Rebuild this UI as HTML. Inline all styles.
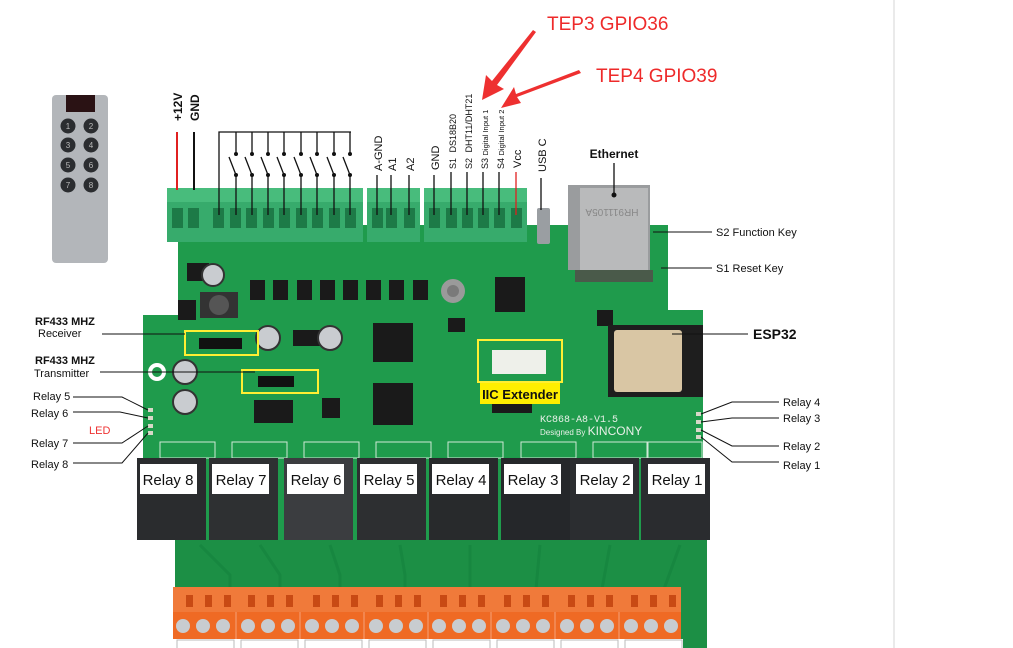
<!DOCTYPE html>
<html><head><meta charset="utf-8"><style>
body{margin:0;background:#fff;width:1013px;height:648px;overflow:hidden;font-family:"Liberation Sans",sans-serif}
svg{display:block}
</style></head><body>
<svg width="1013" height="648" viewBox="0 0 1013 648" xmlns="http://www.w3.org/2000/svg" font-family="Liberation Sans, sans-serif">
<rect width="1013" height="648" fill="#fff"/>
<line x1="894" y1="0" x2="894" y2="648" stroke="#e4e4e4" stroke-width="1.5"/>

<!-- remote -->
<rect x="52" y="95" width="56" height="168" rx="4" fill="#b3b6ba"/>
<rect x="66" y="95" width="29" height="17" fill="#2a1214"/>
<g fill="#2b2d30"><circle cx="68" cy="126" r="7.5"/><circle cx="91" cy="126" r="7.5"/><circle cx="68" cy="145" r="7.5"/><circle cx="91" cy="145" r="7.5"/><circle cx="68" cy="165" r="7.5"/><circle cx="91" cy="165" r="7.5"/><circle cx="68" cy="185" r="7.5"/><circle cx="91" cy="185" r="7.5"/></g>
<g fill="#bbb" font-size="8" text-anchor="middle"><text x="68" y="129">1</text><text x="91" y="129">2</text><text x="68" y="148">3</text><text x="91" y="148">4</text><text x="68" y="168">5</text><text x="91" y="168">6</text><text x="68" y="188">7</text><text x="91" y="188">8</text></g>

<!-- board -->
<polygon points="175,600 175,540 143,540 143,315 178,315 178,225 668,225 668,310 703,310 703,540 707,540 707,600" fill="#1f9b4c"/>
<rect x="175" y="540" width="532" height="108" fill="#1c8f45"/>
<g stroke="#178740" stroke-width="3" fill="none">
<path d="M200 545 L230 575 L230 600"/><path d="M260 545 L280 575 L280 600"/><path d="M330 545 L340 575 L340 600"/><path d="M400 545 L405 575 L405 600"/><path d="M470 545 L470 600"/><path d="M540 545 L535 600"/><path d="M610 545 L600 600"/><path d="M680 545 L660 600"/>
</g>
<!-- ethernet -->
<rect x="568" y="185" width="82" height="85" fill="#9a9c9e"/>
<rect x="580" y="188" width="68" height="82" fill="#b9babb"/>
<text x="612" y="215" font-size="10" fill="#888" text-anchor="middle" transform="rotate(180 612 212)">HR911105A</text>
<rect x="575" y="270" width="78" height="12" fill="#4a5a4a"/>
<!-- USB-C -->
<rect x="537" y="208" width="13" height="36" rx="2" fill="#9a9ea2"/>

<!-- green terminals -->
<g>
<rect x="167" y="188" width="43" height="54" fill="#37ab6c"/>
<rect x="210" y="188" width="153" height="54" fill="#37ab6c"/>
<rect x="367" y="188" width="53" height="54" fill="#37ab6c"/>
<rect x="424" y="188" width="103" height="54" fill="#37ab6c"/>
<rect x="167" y="188" width="43" height="14" fill="#48bc7c"/>
<rect x="210" y="188" width="153" height="14" fill="#48bc7c"/>
<rect x="367" y="188" width="53" height="14" fill="#48bc7c"/>
<rect x="424" y="188" width="103" height="14" fill="#48bc7c"/>
<g fill="#1d7a47">
<rect x="172" y="208" width="11" height="20"/><rect x="188" y="208" width="11" height="20"/>
<rect x="213" y="208" width="11" height="20"/><rect x="230" y="208" width="11" height="20"/><rect x="246" y="208" width="11" height="20"/><rect x="263" y="208" width="11" height="20"/><rect x="279" y="208" width="11" height="20"/><rect x="296" y="208" width="11" height="20"/><rect x="312" y="208" width="11" height="20"/><rect x="329" y="208" width="11" height="20"/><rect x="345" y="208" width="11" height="20"/>
<rect x="372" y="208" width="11" height="20"/><rect x="386" y="208" width="11" height="20"/><rect x="404" y="208" width="11" height="20"/>
<rect x="429" y="208" width="11" height="20"/><rect x="446" y="208" width="11" height="20"/><rect x="462" y="208" width="11" height="20"/><rect x="478" y="208" width="11" height="20"/><rect x="494" y="208" width="11" height="20"/><rect x="511" y="208" width="11" height="20"/>
</g>
</g>

<!-- components -->
<g fill="#1a1a1a">
<rect x="250" y="280" width="15" height="20"/><rect x="273" y="280" width="15" height="20"/><rect x="297" y="280" width="15" height="20"/><rect x="320" y="280" width="15" height="20"/><rect x="343" y="280" width="15" height="20"/><rect x="366" y="280" width="15" height="20"/><rect x="389" y="280" width="15" height="20"/><rect x="413" y="280" width="15" height="20"/>
<rect x="373" y="323" width="40" height="39"/><rect x="373" y="383" width="40" height="42"/>
<rect x="495" y="277" width="30" height="35"/><rect x="254" y="400" width="39" height="23"/>
<rect x="187" y="263" width="22" height="18"/><rect x="178" y="300" width="18" height="20"/>
<rect x="448" y="318" width="17" height="14"/><rect x="512" y="387" width="20" height="25"/>
<rect x="322" y="398" width="18" height="20"/><rect x="597" y="310" width="16" height="16"/>
<rect x="293" y="330" width="28" height="16"/><rect x="492" y="403" width="40" height="10"/>
</g>
<rect x="200" y="292" width="38" height="26" fill="#333"/>
<circle cx="219" cy="305" r="10" fill="#555"/>
<g fill="#c9ccd0" stroke="#333" stroke-width="2"><circle cx="213" cy="275" r="11"/><circle cx="268" cy="338" r="12"/><circle cx="330" cy="338" r="12"/><circle cx="185" cy="372" r="12"/><circle cx="185" cy="402" r="12"/></g>
<circle cx="453" cy="291" r="12" fill="#9a9a9a"/><circle cx="453" cy="291" r="6" fill="#7a7a7a"/>
<circle cx="157" cy="372" r="9" fill="#fff"/><circle cx="157" cy="372" r="5" fill="#1f9b4c"/>
<!-- ESP32 -->
<rect x="608" y="325" width="95" height="72" fill="#1e1e1e"/>
<rect x="614" y="330" width="68" height="62" rx="3" fill="#d9c6a4"/>
<!-- yellow boxes -->
<g fill="none" stroke="#ffee33" stroke-width="2"><rect x="185" y="331" width="73" height="24"/><rect x="242" y="370" width="76" height="23"/><rect x="478" y="340" width="84" height="42"/></g>
<rect x="199" y="338" width="43" height="11" fill="#111"/>
<rect x="258" y="376" width="36" height="11" fill="#111"/>
<rect x="492" y="350" width="54" height="24" fill="#eef0ea"/>
<rect x="480" y="383" width="80" height="21" fill="#ffee00"/>
<text x="520" y="399" font-size="13" font-weight="bold" text-anchor="middle" fill="#111">IIC Extender</text>
<text x="540" y="422" font-size="10" fill="#e8f0e8" font-family="Liberation Mono, monospace">KC868-A8-V1.5</text>
<text x="540" y="435" font-size="8" fill="#e8f0e8">Designed By <tspan font-size="12">KINCONY</tspan></text>
<!-- LEDs -->
<g fill="#d8d8c8"><rect x="148" y="408" width="5" height="4"/><rect x="148" y="416" width="5" height="4"/><rect x="148" y="424" width="5" height="4"/><rect x="148" y="431" width="5" height="4"/><rect x="696" y="412" width="5" height="4"/><rect x="696" y="420" width="5" height="4"/><rect x="696" y="428" width="5" height="4"/><rect x="696" y="435" width="5" height="4"/></g>
<!-- relay sockets -->
<g fill="none" stroke="#cfe8d6" stroke-width="1"><rect x="160" y="442" width="55" height="16"/><rect x="232" y="442" width="55" height="16"/><rect x="304" y="442" width="55" height="16"/><rect x="376" y="442" width="55" height="16"/><rect x="448" y="442" width="55" height="16"/><rect x="521" y="442" width="55" height="16"/><rect x="593" y="442" width="55" height="16"/><rect x="647" y="442" width="55" height="16"/></g>

<!-- relays -->
<g>
<rect x="137" y="458" width="69" height="82" fill="#2a2c2e"/>
<rect x="209" y="458" width="69" height="82" fill="#2e3032"/>
<rect x="284" y="458" width="69" height="82" fill="#3b3d40"/>
<rect x="357" y="458" width="69" height="82" fill="#2d2f31"/>
<rect x="429" y="458" width="69" height="82" fill="#282a2c"/>
<rect x="501" y="458" width="69" height="82" fill="#25272a"/>
<rect x="570" y="458" width="69" height="82" fill="#2b2d30"/>
<rect x="641" y="458" width="69" height="82" fill="#2a2c2f"/>
<g fill="#fff"><rect x="140" y="464" width="57" height="30"/><rect x="212" y="464" width="57" height="30"/><rect x="287" y="464" width="57" height="30"/><rect x="360" y="464" width="57" height="30"/><rect x="432" y="464" width="57" height="30"/><rect x="504" y="464" width="57" height="30"/><rect x="576" y="464" width="57" height="30"/><rect x="648" y="464" width="57" height="30"/></g>
<g font-size="15" fill="#111" text-anchor="middle"><text x="168" y="485">Relay 8</text><text x="241" y="485">Relay 7</text><text x="316" y="485">Relay 6</text><text x="389" y="485">Relay 5</text><text x="461" y="485">Relay 4</text><text x="533" y="485">Relay 3</text><text x="605" y="485">Relay 2</text><text x="677" y="485">Relay 1</text></g>
</g>

<!-- orange terminals -->
<rect x="173" y="587" width="508" height="30" fill="#f07a3a"/>
<rect x="173" y="612" width="508" height="27" fill="#ef6a24"/>
<g fill="#c84a14">
<rect x="186" y="595" width="7" height="12"/><rect x="205" y="595" width="7" height="12"/><rect x="224" y="595" width="7" height="12"/><rect x="248" y="595" width="7" height="12"/><rect x="267" y="595" width="7" height="12"/><rect x="286" y="595" width="7" height="12"/><rect x="313" y="595" width="7" height="12"/><rect x="332" y="595" width="7" height="12"/><rect x="351" y="595" width="7" height="12"/><rect x="376" y="595" width="7" height="12"/><rect x="395" y="595" width="7" height="12"/><rect x="414" y="595" width="7" height="12"/><rect x="440" y="595" width="7" height="12"/><rect x="459" y="595" width="7" height="12"/><rect x="478" y="595" width="7" height="12"/><rect x="504" y="595" width="7" height="12"/><rect x="523" y="595" width="7" height="12"/><rect x="542" y="595" width="7" height="12"/><rect x="568" y="595" width="7" height="12"/><rect x="587" y="595" width="7" height="12"/><rect x="606" y="595" width="7" height="12"/><rect x="631" y="595" width="7" height="12"/><rect x="650" y="595" width="7" height="12"/><rect x="669" y="595" width="7" height="12"/>
</g>
<g stroke="#f6a27a" stroke-width="1"><line x1="236" y1="612" x2="236" y2="639"/><line x1="300" y1="612" x2="300" y2="639"/><line x1="364" y1="612" x2="364" y2="639"/><line x1="428" y1="612" x2="428" y2="639"/><line x1="491" y1="612" x2="491" y2="639"/><line x1="555" y1="612" x2="555" y2="639"/><line x1="619" y1="612" x2="619" y2="639"/></g>
<g fill="#c8ccd0"><circle cx="183" cy="626" r="7"/><circle cx="203" cy="626" r="7"/><circle cx="223" cy="626" r="7"/><circle cx="248" cy="626" r="7"/><circle cx="268" cy="626" r="7"/><circle cx="288" cy="626" r="7"/><circle cx="312" cy="626" r="7"/><circle cx="332" cy="626" r="7"/><circle cx="352" cy="626" r="7"/><circle cx="376" cy="626" r="7"/><circle cx="396" cy="626" r="7"/><circle cx="416" cy="626" r="7"/><circle cx="439" cy="626" r="7"/><circle cx="459" cy="626" r="7"/><circle cx="479" cy="626" r="7"/><circle cx="503" cy="626" r="7"/><circle cx="523" cy="626" r="7"/><circle cx="543" cy="626" r="7"/><circle cx="567" cy="626" r="7"/><circle cx="587" cy="626" r="7"/><circle cx="607" cy="626" r="7"/><circle cx="631" cy="626" r="7"/><circle cx="651" cy="626" r="7"/><circle cx="671" cy="626" r="7"/></g>
<rect x="175" y="639" width="508" height="9" fill="#fff"/>
<g fill="none" stroke="#bbb"><rect x="177" y="640" width="57" height="12"/><rect x="241" y="640" width="57" height="12"/><rect x="305" y="640" width="57" height="12"/><rect x="369" y="640" width="57" height="12"/><rect x="433" y="640" width="57" height="12"/><rect x="497" y="640" width="57" height="12"/><rect x="561" y="640" width="57" height="12"/><rect x="625" y="640" width="57" height="12"/></g>

<!-- top connector lines -->
<line x1="177" y1="132" x2="177" y2="190" stroke="#e02020" stroke-width="2"/>
<line x1="194" y1="132" x2="194" y2="190" stroke="#111" stroke-width="2"/>
<g stroke="#111" stroke-width="1.3" fill="none">
<path d="M219 215 V132 H351"/>
<path d="M236 132 V154 M236 175 V215 M252 132 V154 M252 175 V215 M268 132 V154 M268 175 V215 M284 132 V154 M284 175 V215 M301 132 V154 M301 175 V215 M317 132 V154 M317 175 V215 M334 132 V154 M334 175 V215 M350 132 V154 M350 175 V215"/>
<path d="M229 157 L236 175 M245 157 L252 175 M261 157 L268 175 M277 157 L284 175 M294 157 L301 175 M310 157 L317 175 M327 157 L334 175 M343 157 L350 175"/>
<path d="M377 175 V215 M391 175 V215 M409 175 V215 M434 175 V215 M451 172 V215 M467 172 V215 M483 172 V215 M499 172 V215 M541 178 V210 M614 163 V195"/>
</g>
<line x1="516" y1="172" x2="516" y2="215" stroke="#e02020" stroke-width="1.3"/>
<g fill="#111"><circle cx="236" cy="154" r="2"/><circle cx="236" cy="175" r="2"/><circle cx="252" cy="154" r="2"/><circle cx="252" cy="175" r="2"/><circle cx="268" cy="154" r="2"/><circle cx="268" cy="175" r="2"/><circle cx="284" cy="154" r="2"/><circle cx="284" cy="175" r="2"/><circle cx="301" cy="154" r="2"/><circle cx="301" cy="175" r="2"/><circle cx="317" cy="154" r="2"/><circle cx="317" cy="175" r="2"/><circle cx="334" cy="154" r="2"/><circle cx="334" cy="175" r="2"/><circle cx="350" cy="154" r="2"/><circle cx="350" cy="175" r="2"/><circle cx="614" cy="195" r="2.5"/></g>

<!-- rotated top labels -->
<g fill="#111">
<text transform="translate(182,121) rotate(-90)" font-size="12" font-weight="bold">+12V</text>
<text transform="translate(199,121) rotate(-90)" font-size="12" font-weight="bold">GND</text>
<text transform="translate(382,171) rotate(-90)" font-size="11">A-GND</text>
<text transform="translate(396,171) rotate(-90)" font-size="11">A1</text>
<text transform="translate(414,171) rotate(-90)" font-size="11">A2</text>
<text transform="translate(439,170) rotate(-90)" font-size="11">GND</text>
<text transform="translate(456,169) rotate(-90)" font-size="9">S1  <tspan dx="3">DS18B20</tspan></text>
<text transform="translate(472,169) rotate(-90)" font-size="9">S2  <tspan dx="3">DHT11/DHT21</tspan></text>
<text transform="translate(488,169) rotate(-90)" font-size="9">S3 <tspan font-size="7.5">Digital Input 1</tspan></text>
<text transform="translate(504,169) rotate(-90)" font-size="9">S4 <tspan font-size="7.5">Digital Input 2</tspan></text>
<text transform="translate(521,168) rotate(-90)" font-size="11">Vcc</text>
<text transform="translate(546,172) rotate(-90)" font-size="11">USB C</text>
</g>
<text x="614" y="158" font-size="12" font-weight="bold" text-anchor="middle" fill="#111">Ethernet</text>

<!-- red annotation -->
<text x="547" y="30" font-size="19" fill="#ee2a2a">TEP3  GPIO36</text>
<text x="596" y="82" font-size="19" fill="#ee2a2a">TEP4 GPIO39</text>
<polygon points="536,32 497,85 504,89 482,100 486,75 492,81 533,30" fill="#ee3030"/>
<polygon points="581,73 517,97 521,103 501,108 514,87 516,94 579,70" fill="#ee3030"/>

<!-- left labels -->
<g fill="#111" font-size="11">
<text x="35" y="325" font-weight="bold">RF433 MHZ</text>
<text x="38" y="337">Receiver</text>
<text x="35" y="364" font-weight="bold">RF433 MHZ</text>
<text x="34" y="377">Transmitter</text>
<text x="33" y="400">Relay 5</text>
<text x="31" y="417">Relay 6</text>
<text x="31" y="447">Relay 7</text>
<text x="31" y="468">Relay 8</text>
</g>
<text x="89" y="434" font-size="11" fill="#ee3333">LED</text>
<g stroke="#111" stroke-width="1" fill="none">
<path d="M102 334 H185"/><path d="M100 372 H255"/>
<path d="M73 397 H122 L148 410"/><path d="M73 412 H120 L148 418"/><path d="M73 443 H122 L148 426"/><path d="M73 463 H122 L148 433"/>
<path d="M653 232 H712"/><path d="M661 268 H712"/><path d="M672 334 H748"/>
<path d="M779 402 H732 L701 414"/><path d="M779 418 H732 L701 422"/><path d="M779 446 H732 L701 430"/><path d="M779 462 H732 L701 437"/>
</g>
<g fill="#111" font-size="11">
<text x="716" y="236">S2 Function Key</text>
<text x="716" y="272">S1 Reset Key</text>
<text x="783" y="406">Relay 4</text>
<text x="783" y="422">Relay 3</text>
<text x="783" y="450">Relay 2</text>
<text x="783" y="469">Relay 1</text>
</g>
<text x="753" y="339" font-size="14" font-weight="bold" fill="#111">ESP32</text>
</svg>
</body></html>
